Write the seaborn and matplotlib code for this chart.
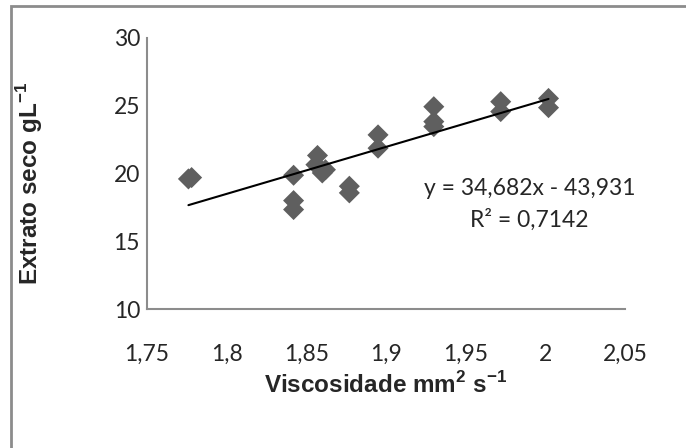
import seaborn as sns
import matplotlib.pyplot as plt
import matplotlib.patches as mpatches
from matplotlib.ticker import FuncFormatter
import numpy as np
import pandas as pd

# viscosity (mm2/s) vs dry extract (g/L)
viscosidade = [1.776, 1.778, 1.842, 1.842, 1.842, 1.857, 1.856, 1.862, 1.860, 1.877,
               1.877, 1.895, 1.895, 1.930, 1.930, 1.930, 1.972, 1.972, 2.002, 2.002]
extrato = [19.6, 19.7, 19.87, 18.0, 17.34, 21.33, 20.65, 20.28, 20.04, 19.06,
           18.57, 22.85, 21.87, 24.93, 23.83, 23.46, 25.3, 24.57, 25.54, 24.86]

slope = 34.682
intercept = -43.931
r2 = 0.7142

x_ticks = [1.75, 1.8, 1.85, 1.9, 1.95, 2.0, 2.05]
y_ticks = [10, 15, 20, 25, 30]

df = pd.DataFrame({"Viscosidade": viscosidade, "Extrato": extrato})

sns.set_style("white")
plt.rcParams['mathtext.fontset'] = 'custom'
plt.rcParams['mathtext.bf'] = 'Liberation Sans:bold'
plt.rcParams['mathtext.rm'] = 'Liberation Sans:bold'

fig = plt.figure(figsize=(6.86, 4.48), dpi=100)
ax = fig.add_axes([147 / 686, 1 - 309 / 448, (625 - 147) / 686, (309 - 38) / 448])

sns.scatterplot(data=df, x="Viscosidade", y="Extrato", marker="D", s=115,
                color="#5f5f5f", edgecolor="none", ax=ax, zorder=3)

# linear trendline over the data range
xs = np.array([min(viscosidade), max(viscosidade)])
ax.plot(xs, slope * xs + intercept, color="black", lw=1.5, zorder=4)

ax.set_xlim(x_ticks[0], x_ticks[-1])
ax.set_ylim(y_ticks[0], y_ticks[-1])
ax.set_xticks(x_ticks)
ax.set_yticks(y_ticks)

comma = FuncFormatter(lambda v, p: f"{v:g}".replace(".", ","))
ax.xaxis.set_major_formatter(comma)
ax.yaxis.set_major_formatter(comma)

for lab in ax.get_xticklabels() + ax.get_yticklabels():
    lab.set_fontfamily("Lato")
    lab.set_fontsize(16.5)
ax.tick_params(axis="x", length=0, pad=25)
ax.tick_params(axis="y", length=0, pad=5)

for side in ["top", "right"]:
    ax.spines[side].set_visible(False)
for side in ["left", "bottom"]:
    ax.spines[side].set_color("#8c8c8c")
    ax.spines[side].set_linewidth(1.5)

ax.set_xlabel(r"Viscosidade mm$^{\mathbf{2}}$ s$^{\mathbf{-1}}$", fontfamily="Liberation Sans",
              fontweight="bold", fontsize=17.5, labelpad=5)
ax.set_ylabel(r"Extrato seco gL$^{\mathbf{-1}}$", fontfamily="Liberation Sans",
              fontweight="bold", fontsize=17.5)
ax.yaxis.set_label_coords(-0.213, 0.465)

eq = f"y = {slope:.3f}x - {abs(intercept):.3f}".replace(".", ",")
ax.text(0.8, 0.445, eq, transform=ax.transAxes, ha="center", va="center",
        fontfamily="Lato", fontsize=16.5)
ax.text(0.8, 0.33, f"R² = {r2:.4f}".replace(".", ","), transform=ax.transAxes,
        ha="center", va="center", fontfamily="Lato", fontsize=16.5)

# chart area border (only top and left edges fall inside the picture)
fig.patches.append(mpatches.Rectangle((10.5 / 686, -0.2), 2, 1.2 - 6 / 448,
                                      transform=fig.transFigure, fill=False,
                                      edgecolor="#8c8c8c", lw=2))

fig.savefig("out.png", dpi=100)
